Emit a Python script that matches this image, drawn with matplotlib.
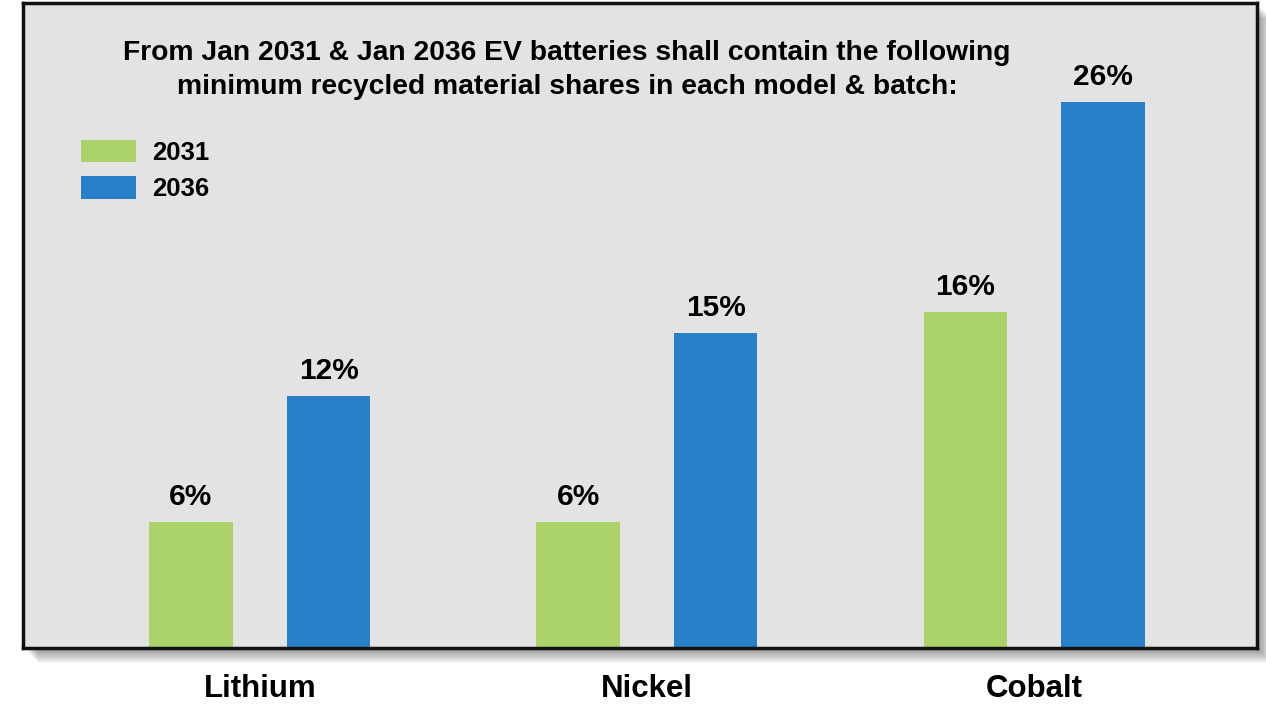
import matplotlib.pyplot as plt
from matplotlib.patches import Rectangle
import numpy as np

materials = ['Lithium', 'Nickel', 'Cobalt']
share_2031 = [6, 6, 16]
share_2036 = [12, 15, 26]
years = ['2031', '2036']

green = '#acd36a'
blue = '#2780c8'
font = ['Liberation Sans', 'DejaVu Sans']

W, H = 1266, 713
fig = plt.figure(figsize=(W / 100, H / 100), dpi=100)
fig.patch.set_facecolor('white')

# axes box in pixels: left 23, right 1257, top 3, bottom 648
l, r, t, b = 23, 1257, 3, 648
ax = fig.add_axes([l / W, 1 - b / H, (r - l) / W, (b - t) / H])

# soft drop shadow behind the panel
for i in range(14):
    off = 2 + i
    fig.patches.append(Rectangle(((l + off) / W, 1 - (b + off) / H), (r - l) / W, (b - t) / H,
                                 transform=fig.transFigure, facecolor='black',
                                 alpha=0.03, edgecolor='none', zorder=-5))

ax.set_facecolor('#e3e3e3')
for s in ax.spines.values():
    s.set_linewidth(2.5)
    s.set_color('#111111')

x = np.arange(len(materials))
w = 0.215
b1 = ax.bar(x - 0.178, share_2031, w, color=green, label=years[0])
b2 = ax.bar(x + 0.178, share_2036, w, color=blue, label=years[1])

for bars, vals in ((b1, share_2031), (b2, share_2036)):
    for rect, v in zip(bars, vals):
        ax.text(rect.get_x() + rect.get_width() / 2, v + 0.5, f'{v}%',
                ha='center', va='bottom', fontsize=21.5, fontweight='bold', family=font)

ax.set_xlim(-0.612, 2.576)
ax.set_ylim(0, 30.7)
ax.set_yticks([])
ax.set_xticks(x)
ax.set_xticklabels(materials, fontsize=22.5, fontweight='bold', family=font)
ax.tick_params(axis='x', length=0, pad=19)

ax.legend(loc='upper left', bbox_to_anchor=((81 - l) / (r - l), 1 - (140 - t) / (b - t)),
          frameon=False, prop={'family': font, 'weight': 'bold', 'size': 18.5},
          handlelength=2.15, handleheight=0.95, handletextpad=0.63,
          labelspacing=0.45, borderpad=0, borderaxespad=0)

fig.text(567 / W, 1 - 70 / H,
         'From Jan 2031 & Jan 2036 EV batteries shall contain the following\n'
         'minimum recycled material shares in each model & batch:',
         ha='center', va='center', multialignment='center', linespacing=1.45,
         fontsize=20.3, fontweight='bold', family=font)

fig.savefig('out.png', dpi=100)
